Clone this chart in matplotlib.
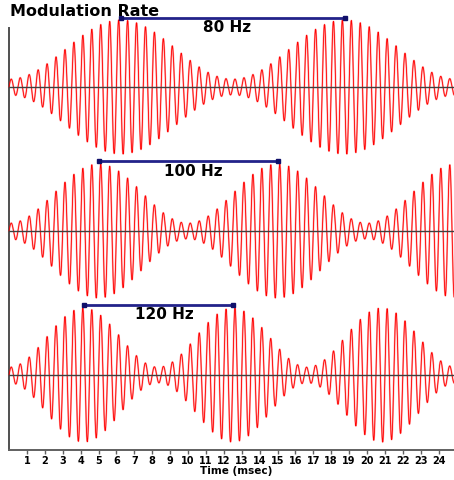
import numpy as np
import matplotlib
matplotlib.use("Agg")
import matplotlib.pyplot as plt

# ---- data ----
mod_rates_hz = [80, 100, 120]
rate_labels = ["80 Hz", "100 Hz", "120 Hz"]
carrier_hz = 2000.0
mod_depth = 0.79
t_max_ms = 24.86
tick_values = list(range(1, 25))
tick_labels = [str(v) for v in tick_values]
title = "Modulation Rate"
xlabel = "Time (msec)"

W, H = 454, 481
fig = plt.figure(figsize=(W / 100, H / 100), dpi=100)
ax = fig.add_axes([9 / W, (H - 451) / H, (W - 9) / W, 451 / H])

amp_px = 67.0
spacing = 144.0 / amp_px
offsets = [0.0, -spacing, -2 * spacing]
y_bottom = -2 * spacing - (451 - 376) / amp_px
y_top = 88 / amp_px
label_x_px = [227, 193, 164]
bracket_dy_px = [69, 70, 70]

t = np.linspace(0, t_max_ms, 30000)
for rate, off, lab, lx, bdy in zip(mod_rates_hz, offsets, rate_labels,
                                   label_x_px, bracket_dy_px):
    env = (1 - mod_depth * np.cos(2 * np.pi * rate * t / 1000.0)) / (1 + mod_depth)
    sig = env * np.sin(2 * np.pi * carrier_hz * t / 1000.0)
    ax.plot(t, sig + off, color="#ffa6a6", lw=1.3, zorder=2, clip_on=False)
    ax.plot(t, sig + off, color="#ff0000", lw=0.6, zorder=3, clip_on=False)
    ax.axhline(off, color="#404040", lw=1.0, zorder=4)
    period = 1000.0 / rate
    p1, p2 = period / 2, 1.5 * period
    yb = off + bdy / amp_px
    ax.plot([p1, p2], [yb, yb], color="#22228a", lw=2.0, zorder=5,
            solid_capstyle="butt", clip_on=False)
    ax.plot([p1, p2], [yb, yb], ls="none", marker="s", ms=2.5,
            color="#10106a", zorder=5, clip_on=False)
    fig.text(lx / W, 1 - (88 - bdy + 9 + (0 if off == 0 else (-off) * amp_px)) / H,
             lab, ha="center", va="center",
             fontsize=11, fontweight="bold", color="black", zorder=6)

ax.set_xlim(0, t_max_ms)
ax.set_ylim(y_bottom, y_top)
ax.set_xticks(tick_values)
ax.set_xticklabels(tick_labels, fontsize=7, fontweight="bold")
ax.set_yticks([])
ax.tick_params(axis="x", length=3, width=1, color="#606060", pad=0.5)
for s in ["top", "right"]:
    ax.spines[s].set_visible(False)
ax.spines["left"].set_bounds(y_bottom, (88 - 29) / amp_px)
ax.spines["left"].set_color("#505050")
ax.spines["bottom"].set_color("#606060")
ax.spines["left"].set_linewidth(1.4)
ax.spines["bottom"].set_linewidth(1.4)
ax.patch.set_alpha(0)

fig.text(236 / W, 1 - 471.5 / H, xlabel, ha="center", va="center",
         fontsize=7.5, fontweight="bold")
fig.text(10 / W, 1 - 12 / H, title, ha="left", va="center",
         fontsize=11.5, fontweight="bold")

fig.savefig("out.png", dpi=100)
